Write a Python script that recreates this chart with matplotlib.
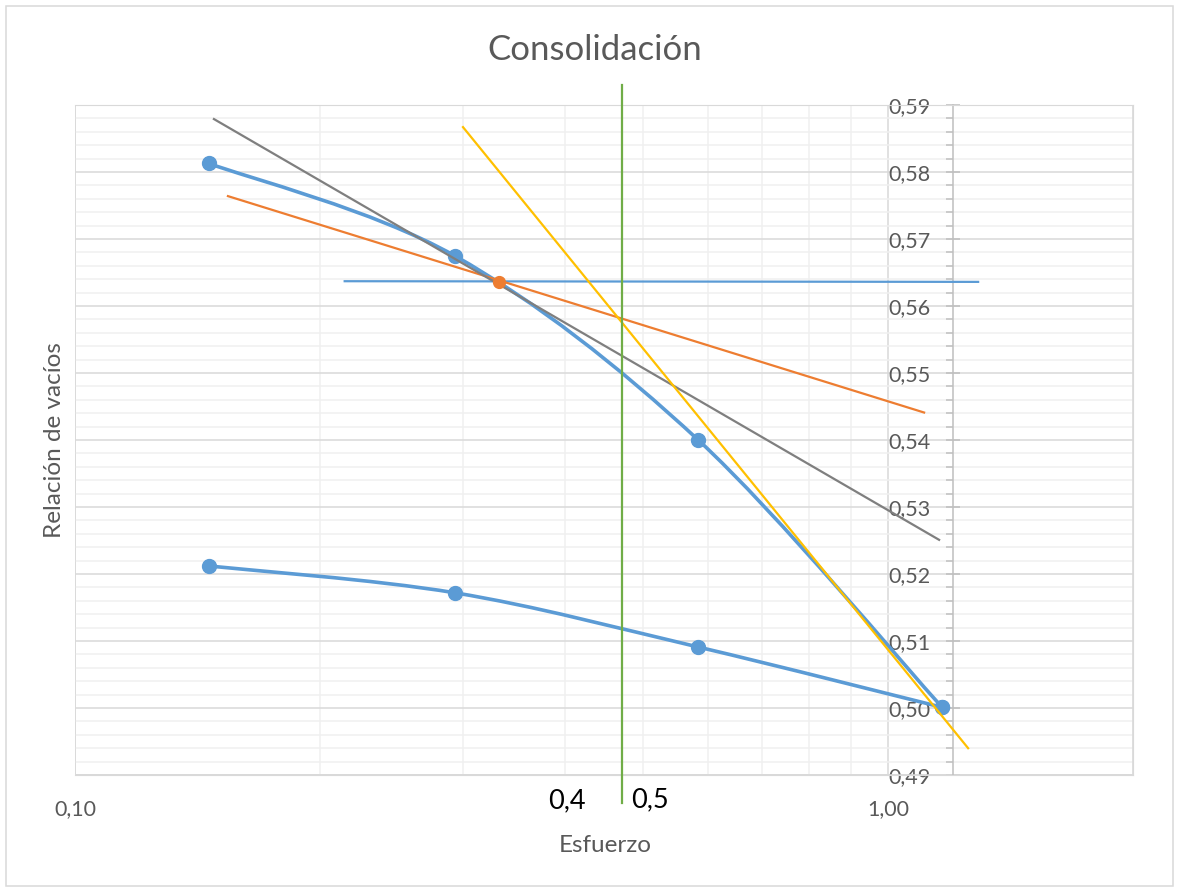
import numpy as np
import matplotlib
matplotlib.use("Agg")
import matplotlib.pyplot as plt
from matplotlib.path import Path
from matplotlib.patches import PathPatch, Rectangle
import matplotlib.ticker as mtick

plt.rcParams.update({"font.family": ["Lato", "DejaVu Sans"]})

# ---------- datos ----------
esfuerzo = [0.146, 0.293, 0.584, 1.165]
e_carga = [0.5813, 0.5675, 0.5400, 0.5001]
e_descarga = [0.5212, 0.5172, 0.5091, 0.5001]

# rectas auxiliares (Casagrande)
gris_x, gris_y = [0.1482, 1.155], [0.5879, 0.5251]
naranja_x, naranja_y = [0.1542, 1.107], [0.5764, 0.5441]
amarilla_x, amarilla_y = [0.300, 1.254], [0.5867, 0.4940]
horiz_x, horiz_y = [0.2146, 1.29], [0.5637, 0.5636]
punto_x, punto_y = [0.3318], [0.5636]
vert_x, vert_y = [0.4712, 0.4712], [0.4858, 0.5930]

GRIS_TXT = "#595959"
AZUL = "#5B9BD5"


def smooth_path(xs, ys):
    # curva suavizada tipo Excel (Bezier sobre log10(x), y)
    lx = np.log10(xs)
    ys = np.asarray(ys, float)
    p = np.column_stack([lx, ys])
    pts = np.vstack([p[0], p, p[-1]])
    verts = [p[0]]
    codes = [Path.MOVETO]
    for i in range(1, len(pts) - 2):
        c1 = pts[i] + (pts[i + 1] - pts[i - 1]) / 6
        c2 = pts[i + 1] - (pts[i + 2] - pts[i]) / 6
        verts += [c1, c2, pts[i + 1]]
        codes += [Path.CURVE4] * 3
    verts = np.array(verts)
    verts[:, 0] = 10 ** verts[:, 0]
    return Path(verts, codes)


W, H = 1179, 890
fig = plt.figure(figsize=(W / 100, H / 100), dpi=100)
L, R, T, B = 75, 1133, 105, 775
ax = fig.add_axes([L / W, 1 - B / H, (R - L) / W, (B - T) / H])

ax.set_xscale("log")
ax.set_xlim(0.1, 2.0)
ax.set_ylim(0.49, 0.59)

# rejilla
ax.set_yticks(np.arange(0.49, 0.5901, 0.01))
ax.yaxis.set_minor_locator(mtick.MultipleLocator(0.002))
ax.set_xticks([0.1, 1.0])
ax.xaxis.set_minor_locator(mtick.FixedLocator([0.2, 0.3, 0.4, 0.5, 0.6, 0.7, 0.8, 0.9, 2.0]))
ax.xaxis.set_minor_formatter(mtick.NullFormatter())
ax.grid(True, which="major", color="#d9d9d9", lw=1.1, zorder=0)
ax.grid(True, which="minor", color="#f0f0f0", lw=1.1, zorder=0)
ax.set_axisbelow(True)

ax.xaxis.set_major_formatter(mtick.FuncFormatter(lambda v, p: f"{v:.2f}".replace(".", ",")))
ax.yaxis.set_major_formatter(mtick.FuncFormatter(lambda v, p: f"{v:.2f}".replace(".", ",")))
ax.tick_params(axis="x", which="both", length=0, pad=17, labelsize=15.5, labelcolor=GRIS_TXT)
ax.tick_params(axis="y", which="major", direction="inout", length=10, width=1.1,
               color="#bfbfbf", pad=11, labelsize=15.5, labelcolor=GRIS_TXT)
ax.tick_params(axis="y", which="minor", direction="out", length=5, width=1.1, color="#bfbfbf")

for s in ["top", "right", "bottom"]:
    ax.spines[s].set_color("#d9d9d9")
ax.spines["left"].set_position(("data", 1.2))
ax.spines["left"].set_color("#bfbfbf")
ax.spines["left"].set_linewidth(1.1)
ax.add_patch(Rectangle((0, 0), 1, 1, transform=ax.transAxes, fill=False,
                       ec="#d9d9d9", lw=1.1, zorder=1))

# curvas de consolidación
for e in (e_carga, e_descarga):
    ax.add_patch(PathPatch(smooth_path(esfuerzo, e), fill=False, ec=AZUL,
                           lw=2.6, capstyle="round", zorder=3))
    ax.plot(esfuerzo, e, "o", color=AZUL, ms=10, zorder=4)

ax.plot(horiz_x, horiz_y, color=AZUL, lw=1.6, zorder=5)
ax.plot(naranja_x, naranja_y, color="#ED7D31", lw=1.6, zorder=5)
ax.plot(gris_x, gris_y, color="#7F7F7F", lw=1.6, zorder=5)
ax.plot(amarilla_x, amarilla_y, color="#FFC000", lw=1.6, zorder=6)
ax.plot(vert_x, vert_y, color="#70AD47", lw=1.6, zorder=6, clip_on=False)
ax.plot(punto_x, punto_y, "o", color="#ED7D31", ms=8.5, zorder=7)

# textos
fig.text(595 / W, 1 - 50 / H, "Consolidación", ha="center", va="center",
         fontsize=25, color=GRIS_TXT)
fig.text(605 / W, 1 - 846 / H, "Esfuerzo", ha="center", va="center",
         fontsize=17.5, color=GRIS_TXT)
fig.text(55 / W, 1 - 440 / H, "Relación de vacíos", ha="center", va="center",
         rotation=90, fontsize=17.5, color=GRIS_TXT)
fig.text(567 / W, 1 - 801 / H, "0,4", ha="center", va="center", fontsize=19.5, color="black")
fig.text(650 / W, 1 - 800 / H, "0,5", ha="center", va="center", fontsize=19.5, color="black")

# borde del área del gráfico
fig.patches.append(Rectangle((6 / W, 1 - 886 / H), (1173 - 6) / W, (886 - 6) / H,
                             transform=fig.transFigure, fill=False, ec="#d9d9d9", lw=1.1))

fig.savefig("out.png", dpi=100)
